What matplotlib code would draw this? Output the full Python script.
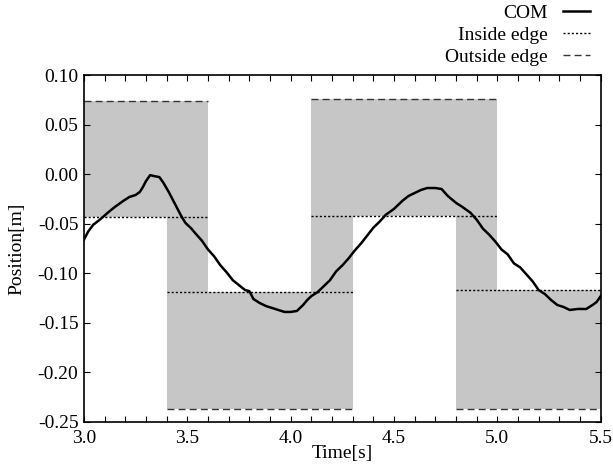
import numpy as np
import matplotlib.pyplot as plt
from matplotlib.ticker import MultipleLocator, FormatStrFormatter

plt.rcParams['font.family'] = ['Liberation Serif', 'DejaVu Serif']
plt.rcParams['font.size'] = 14

# footsteps: time span, inside edge and outside edge of each foot [m]
step_start = [3.0, 3.4, 4.1, 4.8]
step_end = [3.6, 4.3, 5.0, 5.5]
inside_edge = [-0.043, -0.119, -0.042, -0.117]
outside_edge = [0.074, -0.237, 0.076, -0.237]

# centre of mass trajectory
com_t = [3.00, 3.02, 3.045, 3.07, 3.093, 3.12, 3.15, 3.19, 3.22, 3.25, 3.27, 3.285,
         3.30, 3.32, 3.34, 3.365, 3.385, 3.41, 3.43, 3.45, 3.47, 3.49, 3.52, 3.54,
         3.57, 3.60, 3.63, 3.66, 3.69, 3.72, 3.75, 3.78, 3.80, 3.82, 3.85, 3.88,
         3.91, 3.94, 3.97, 4.00, 4.03, 4.06, 4.08, 4.10, 4.13, 4.16, 4.19, 4.22,
         4.25, 4.28, 4.31, 4.34, 4.37, 4.40, 4.43, 4.46, 4.50, 4.54, 4.57, 4.60,
         4.63, 4.66, 4.70, 4.73, 4.76, 4.80, 4.83, 4.87, 4.90, 4.93, 4.96, 4.99,
         5.02, 5.05, 5.08, 5.11, 5.14, 5.17, 5.20, 5.23, 5.26, 5.29, 5.32, 5.35,
         5.39, 5.43, 5.46, 5.48, 5.50]
com_y = [-0.066, -0.058, -0.051, -0.047, -0.043, -0.038, -0.033, -0.027, -0.023, -0.021, -0.018, -0.013,
         -0.007, -0.001, -0.002, -0.003, -0.009, -0.018, -0.026, -0.034, -0.042, -0.049, -0.055, -0.060,
         -0.067, -0.076, -0.083, -0.092, -0.099, -0.107, -0.112, -0.117, -0.118, -0.126, -0.130, -0.133,
         -0.135, -0.137, -0.139, -0.139, -0.138, -0.132, -0.127, -0.123, -0.119, -0.113, -0.107, -0.098,
         -0.092, -0.085, -0.077, -0.070, -0.062, -0.054, -0.048, -0.041, -0.035, -0.027, -0.022, -0.019,
         -0.016, -0.014, -0.014, -0.015, -0.022, -0.029, -0.033, -0.039, -0.046, -0.055, -0.061, -0.068,
         -0.076, -0.081, -0.090, -0.094, -0.101, -0.108, -0.117, -0.121, -0.127, -0.132, -0.134, -0.137,
         -0.136, -0.136, -0.132, -0.129, -0.123]

fig = plt.figure(figsize=(6.13, 4.75), dpi=100)
ax = fig.add_axes([0.137, 0.1116, 0.843, 0.7305])

gray = '#c6c6c6'
# each foot
for s, e, i, o in zip(step_start, step_end, inside_edge, outside_edge):
    ax.fill_between([s, e], i, o, color=gray, lw=0, zorder=1)
# double support between consecutive feet
for k in range(len(step_start) - 1):
    s = max(step_start[k], step_start[k + 1])
    e = min(step_end[k], step_end[k + 1])
    if e > s:
        ax.fill_between([s, e], inside_edge[k], inside_edge[k + 1], color=gray, lw=0, zorder=1)

for s, e, i, o in zip(step_start, step_end, inside_edge, outside_edge):
    ax.plot([s, e], [i, i], color='black', lw=1, ls=(0, (1.5, 1.5)), zorder=2)
    ax.plot([s, e], [o, o], color='#333333', lw=1, ls=(0, (5, 3)), zorder=2)

ax.plot(com_t, com_y, color='black', lw=1.8, zorder=3)

ax.set_xlim(3.0, 5.5)
ax.set_ylim(-0.25, 0.10)
ax.xaxis.set_major_locator(MultipleLocator(0.5))
ax.xaxis.set_minor_locator(MultipleLocator(0.1))
ax.yaxis.set_major_locator(MultipleLocator(0.05))
ax.xaxis.set_major_formatter(FormatStrFormatter('%.1f'))
ax.yaxis.set_major_formatter(FormatStrFormatter('%.2f'))
ax.tick_params(which='both', direction='in', top=True, right=True, length=4, width=0.8)
ax.tick_params(axis='x', pad=6)
ax.tick_params(axis='y', pad=4)
for sp in ax.spines.values():
    sp.set_linewidth(1.2)
ax.set_xlabel('Time[s]', labelpad=-2)
ax.set_ylabel('Position[m]', labelpad=9)

h1, = ax.plot([], [], color='black', lw=1.8)
h2, = ax.plot([], [], color='black', lw=1, ls=(0, (1.5, 1.5)))
h3, = ax.plot([], [], color='#333333', lw=1, ls=(0, (5, 3)))
fig.legend([h1, h2, h3], ['COM', 'Inside edge', 'Outside edge'],
           loc='upper right', bbox_to_anchor=(0.985, 1.02), frameon=False,
           markerfirst=False, handlelength=1.4, handletextpad=0.8,
           labelspacing=0.22, borderpad=0.2)

fig.savefig('out.png', dpi=100)
